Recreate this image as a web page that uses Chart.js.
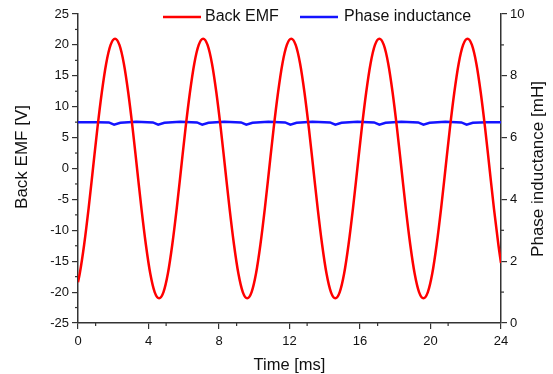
<!DOCTYPE html>
<html>
<head>
<meta charset="utf-8">
<script src="https://cdn.jsdelivr.net/npm/chart.js@4"></script>
<style>
  html, body { margin: 0; padding: 0; background: #fff; }
  #wrap { width: 553px; height: 374px; }
</style>
</head>
<body>
<div id="wrap"><canvas id="myChart" width="553" height="374"></canvas></div>
<script>
// back EMF (V)
const emfTime = [0,
  0.1, 0.35, 0.6, 0.85, 1.1, 1.35, 1.6, 1.85, 2.1, 2.35, 2.6, 2.85, 3.1, 3.35, 3.6, 3.85, 4.1, 4.35, 4.6, 4.85,
  5.1, 5.35, 5.6, 5.85, 6.1, 6.35, 6.6, 6.85, 7.1, 7.35, 7.6, 7.85, 8.1, 8.35, 8.6, 8.85, 9.1, 9.35, 9.6, 9.85,
  10.1, 10.35, 10.6, 10.85, 11.1, 11.35, 11.6, 11.85, 12.1, 12.35, 12.6, 12.85, 13.1, 13.35, 13.6, 13.85, 14.1, 14.35, 14.6, 14.85,
  15.1, 15.35, 15.6, 15.85, 16.1, 16.35, 16.6, 16.85, 17.1, 17.35, 17.6, 17.85, 18.1, 18.35, 18.6, 18.85, 19.1, 19.35, 19.6, 19.85,
  20.1, 20.35, 20.6, 20.85, 21.1, 21.35, 21.6, 21.85, 22.1, 22.35, 22.6, 22.85, 23.1, 23.35, 23.6, 23.85, 24];
const emfValue = [-18.4,
  -17.0, -12.3, -6.5, 0, 6.5, 12.3, 17.0, 20.0, 21, 20.0, 17.0, 12.3, 6.5, 0, -6.5, -12.3, -17.0, -20.0, -21, -20.0,
  -17.0, -12.3, -6.5, 0, 6.5, 12.3, 17.0, 20.0, 21, 20.0, 17.0, 12.3, 6.5, 0, -6.5, -12.3, -17.0, -20.0, -21, -20.0,
  -17.0, -12.3, -6.5, 0, 6.5, 12.3, 17.0, 20.0, 21, 20.0, 17.0, 12.3, 6.5, 0, -6.5, -12.3, -17.0, -20.0, -21, -20.0,
  -17.0, -12.3, -6.5, 0, 6.5, 12.3, 17.0, 20.0, 21, 20.0, 17.0, 12.3, 6.5, 0, -6.5, -12.3, -17.0, -20.0, -21, -20.0,
  -17.0, -12.3, -6.5, 0, 6.5, 12.3, 17.0, 20.0, 21, 20.0, 17.0, 12.3, 6.5, 0, -6.5, -12.3, -15.3];

// phase inductance (mH), small dips every 2.5 ms
const indTime = [0, 1.1, 1.75, 2.05, 2.4, 3.3, 4.25, 4.55, 4.9, 5.8, 6.75, 7.05, 7.4, 8.3, 9.25, 9.55, 9.9,
  10.8, 11.75, 12.05, 12.4, 13.3, 14.3, 14.6, 14.95, 15.85, 16.8, 17.1, 17.45, 18.35, 19.3, 19.6, 19.95,
  20.85, 21.75, 22.05, 22.4, 23.2, 24];
const indValue = [6.5, 6.5, 6.49, 6.42, 6.48, 6.51, 6.49, 6.42, 6.48, 6.51, 6.49, 6.42, 6.48, 6.51, 6.49, 6.42, 6.48,
  6.51, 6.49, 6.42, 6.48, 6.51, 6.49, 6.42, 6.48, 6.51, 6.49, 6.42, 6.48, 6.51, 6.49, 6.42, 6.48,
  6.51, 6.49, 6.42, 6.48, 6.5, 6.5];

const xTicks = [0, 4, 8, 12, 16, 20, 24];
const yLeftTicks = [-25, -20, -15, -10, -5, 0, 5, 10, 15, 20, 25];
const yRightTicks = [0, 2, 4, 6, 8, 10];

const xTitle = 'Time [ms]';
const yLeftTitle = 'Back EMF [V]';
const yRightTitle = 'Phase inductance [mH]';

const axisColor = '#333';
const fontFamily = '"Liberation Sans", Arial, sans-serif';

function pts(xs, ys) {
  return xs.map((x, i) => ({ x: x, y: ys[i] }));
}

// minor ticks between the major ones
const minorTicks = {
  id: 'minorTicks',
  afterDraw(chart) {
    const ctx = chart.ctx;
    const sets = [
      ['x', 2, 1, 'bottom'],
      ['y', 2.5, 2.5, 'left'],
      ['y2', 1, 1, 'right']
    ];
    ctx.save();
    ctx.strokeStyle = axisColor;
    ctx.lineWidth = 1.2;
    sets.forEach(s => {
      const sc = chart.scales[s[0]];
      for (let v = sc.min + s[2]; v < sc.max; v += s[1] * 2) {
        const p = sc.getPixelForValue(v);
        ctx.beginPath();
        if (s[3] === 'bottom') { ctx.moveTo(p, sc.top); ctx.lineTo(p, sc.top + 3); }
        if (s[3] === 'left') { ctx.moveTo(sc.right, p); ctx.lineTo(sc.right - 3, p); }
        if (s[3] === 'right') { ctx.moveTo(sc.left, p); ctx.lineTo(sc.left + 3, p); }
        ctx.stroke();
      }
    });
    ctx.restore();
  }
};

// axis titles: both vertical ones read bottom-to-top
const axisTitles = {
  id: 'axisTitles',
  afterDraw(chart) {
    const ctx = chart.ctx;
    const area = chart.chartArea;
    ctx.save();
    ctx.fillStyle = '#111';
    ctx.textAlign = 'center';
    ctx.textBaseline = 'middle';
    ctx.font = '16.5px ' + fontFamily;
    ctx.fillText(xTitle, (area.left + area.right) / 2, 365);
    ctx.font = '17px ' + fontFamily;
    ctx.save();
    ctx.translate(22, 157);
    ctx.rotate(-Math.PI / 2);
    ctx.fillText(yLeftTitle, 0, 0);
    ctx.restore();
    ctx.save();
    ctx.translate(538, 169);
    ctx.rotate(-Math.PI / 2);
    ctx.fillText(yRightTitle, 0, 0);
    ctx.restore();
    ctx.restore();
  }
};

// legend inside the plot, like the original
const innerLegend = {
  id: 'innerLegend',
  afterDraw(chart) {
    const ctx = chart.ctx;
    const items = [[163, 203], [300, 342]];
    ctx.save();
    ctx.font = '16px ' + fontFamily;
    ctx.textBaseline = 'middle';
    chart.data.datasets.forEach((ds, i) => {
      const y = 17;
      ctx.strokeStyle = ds.borderColor;
      ctx.lineWidth = 2.5;
      ctx.beginPath();
      ctx.moveTo(items[i][0], y);
      ctx.lineTo(items[i][0] + 38, y);
      ctx.stroke();
      ctx.fillStyle = '#111';
      ctx.fillText(ds.label, items[i][1] + 2, y);
    });
    ctx.restore();
  }
};

const data = {
  datasets: [
    {
      label: 'Back EMF',
      data: pts(emfTime, emfValue),
      borderColor: 'rgb(255, 0, 0)',
      backgroundColor: 'rgb(255, 0, 0)',
      borderWidth: 2.5,
      yAxisID: 'y',
      cubicInterpolationMode: 'monotone'
    },
    {
      label: 'Phase inductance',
      data: pts(indTime, indValue),
      borderColor: 'rgb(20, 20, 255)',
      backgroundColor: 'rgb(20, 20, 255)',
      borderWidth: 2.5,
      yAxisID: 'y2',
      tension: 0
    }
  ]
};

const config = {
  type: 'line',
  data: data,
  options: {
    animation: false,
    responsive: false,
    layout: { padding: { top: 14, left: 0, right: 0, bottom: 0 } },
    plugins: {
      legend: { display: false },
      tooltip: { enabled: false }
    },
    datasets: {
      line: { pointRadius: 0 }
    },
    scales: {
      x: {
        type: 'linear',
        min: 0,
        max: 24,
        afterBuildTicks: sc => { sc.ticks = xTicks.map(v => ({ value: v })); },
        afterFit: sc => { sc.height = 51; },
        grid: { drawOnChartArea: false, tickLength: 6, color: axisColor, lineWidth: 1.2 },
        border: { color: axisColor, width: 1.5 },
        ticks: { color: '#111', font: { family: fontFamily, size: 13 }, padding: 5, maxRotation: 0 }
      },
      y: {
        type: 'linear',
        position: 'left',
        min: -25,
        max: 25,
        afterBuildTicks: sc => { sc.ticks = yLeftTicks.map(v => ({ value: v })); },
        afterFit: sc => { sc.width = 78; },
        grid: { drawOnChartArea: false, tickLength: 6, color: axisColor, lineWidth: 1.2 },
        border: { color: axisColor, width: 1.5 },
        ticks: { color: '#111', font: { family: fontFamily, size: 13 }, padding: 3 }
      },
      y2: {
        type: 'linear',
        position: 'right',
        min: 0,
        max: 10,
        afterBuildTicks: sc => { sc.ticks = yRightTicks.map(v => ({ value: v })); },
        afterFit: sc => { sc.width = 52; },
        grid: { drawOnChartArea: false, tickLength: 6, color: axisColor, lineWidth: 1.2 },
        border: { color: axisColor, width: 1.5 },
        ticks: { color: '#111', font: { family: fontFamily, size: 13 }, padding: 3 }
      }
    }
  },
  plugins: [minorTicks, axisTitles, innerLegend]
};

var myChart;

function initChart() {
  var ctx = document.getElementById('myChart').getContext('2d');
  myChart = new Chart(ctx, config);
}

window.addEventListener('load', _ => {
  if (!myChart) {
    initChart();
  }
});
</script>
</body>
</html>
